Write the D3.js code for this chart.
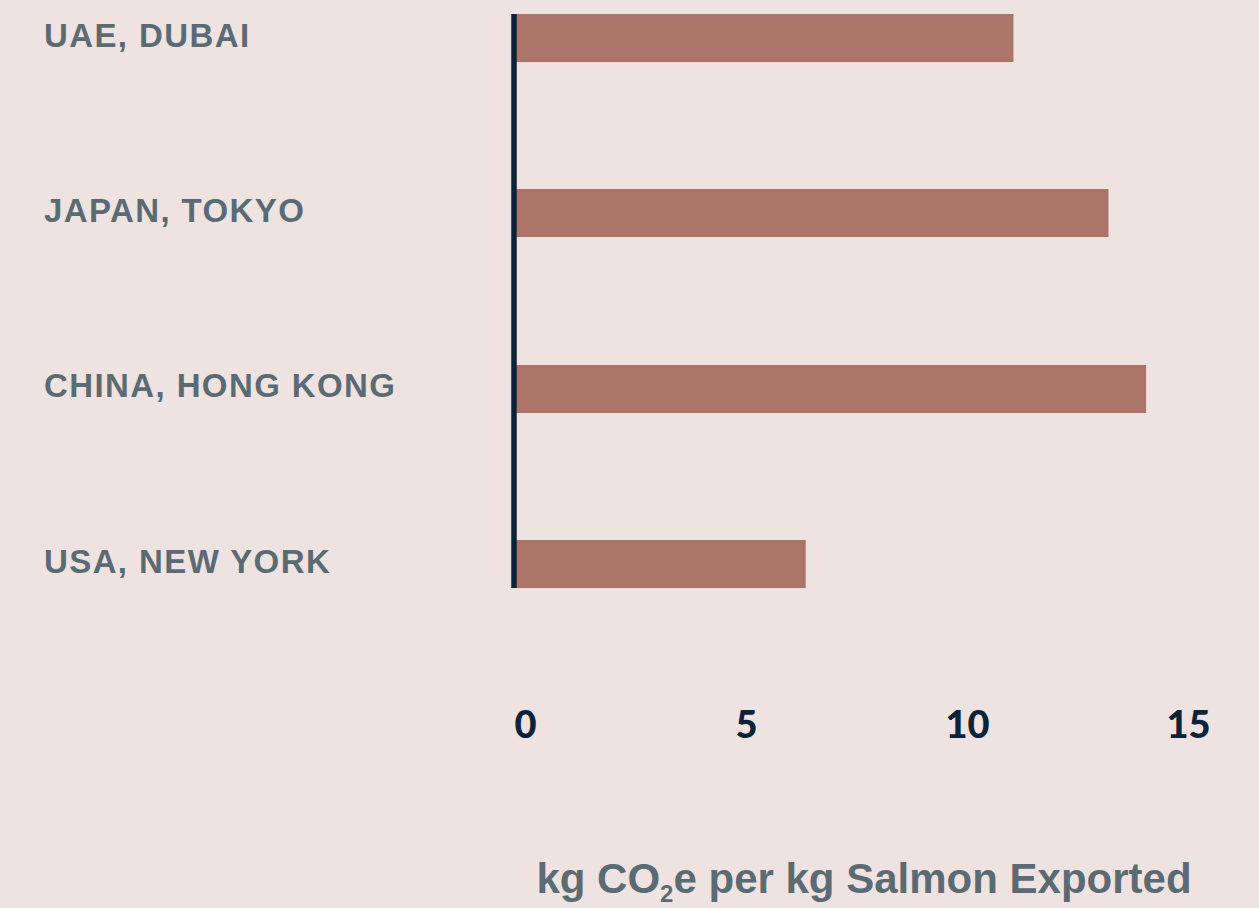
<!DOCTYPE html>
<html>
<head>
<meta charset="utf-8">
<script src="https://cdn.jsdelivr.net/npm/d3@7"></script>
<style>
  html, body { margin: 0; padding: 0; background: #efe3e1; }
  svg { display: block; }
  .cat { font-family: "Liberation Sans", Arial, sans-serif; font-weight: bold; fill: #5b6b73; letter-spacing: 1.4px; }
  .tick-label { font-family: "Lato", sans-serif; font-weight: 900; fill: #0b2238; }
  .axis-title { font-family: "Liberation Sans", Arial, sans-serif; font-weight: bold; fill: #5b6b73; }
</style>
</head>
<body>
<div id="body"></div>
<script>
// data
var cities = ["UAE, DUBAI", "JAPAN, TOKYO", "CHINA, HONG KONG", "USA, NEW YORK"];
var emissions = [11.3, 13.45, 14.3, 6.6];
var tickValues = [0, 5, 10, 15];

var width = 1259, height = 908;

var svg = d3.select("#body").append("svg")
     .attr("width", width)
     .attr("height", height);

svg.append("rect")
     .attr("width", width)
     .attr("height", height)
     .attr("fill", "#efe3e1");

var x = d3.scaleLinear()
     .domain([0, 15])
     .range([514, 1177]);

var y = d3.scaleBand()
     .domain(cities)
     .range([14, 588])
     .paddingInner(0.726)
     .paddingOuter(0);

var rows = cities.map(function(c, i) { return {city: c, value: emissions[i]}; });

// bars
svg.append("g")
     .selectAll("rect")
     .data(rows)
  .enter().append("rect")
     .attr("x", x(0))
     .attr("y", function(d) { return Math.round(y(d.city)); })
     .attr("width", function(d) { return x(d.value) - x(0); })
     .attr("height", y.bandwidth())
     .attr("fill", "#ab7669");

// vertical baseline
svg.append("line")
     .attr("x1", x(0)).attr("x2", x(0))
     .attr("y1", y.range()[0]).attr("y2", y.range()[1])
     .attr("stroke", "#0b2238")
     .attr("stroke-width", 5.5);

// category labels
svg.append("g")
     .selectAll("text")
     .data(cities)
  .enter().append("text")
     .attr("class", "cat")
     .attr("x", 44)
     .attr("y", function(d) { return y(d) + y.bandwidth() / 2 - 3; })
     .attr("dy", "0.35em")
     .attr("font-size", 33)
     .text(function(d) { return d; });

// x tick labels (no tick marks in the original)
svg.append("g")
     .selectAll("text")
     .data(tickValues)
  .enter().append("text")
     .attr("class", "tick-label")
     .attr("x", function(d) { return x(d) + 11.5; })
     .attr("y", 738)
     .attr("text-anchor", "middle")
     .attr("font-size", 38)
     .text(function(d) { return d; });

// axis title with subscript
var title = svg.append("text")
     .attr("class", "axis-title")
     .attr("x", 864)
     .attr("y", 893)
     .attr("text-anchor", "middle")
     .attr("font-size", 42);
title.append("tspan").text("kg CO");
title.append("tspan").attr("font-size", 24).attr("dy", 9).text("2");
title.append("tspan").attr("dy", -9).text("e per kg Salmon Exported");
</script>
</body>
</html>
